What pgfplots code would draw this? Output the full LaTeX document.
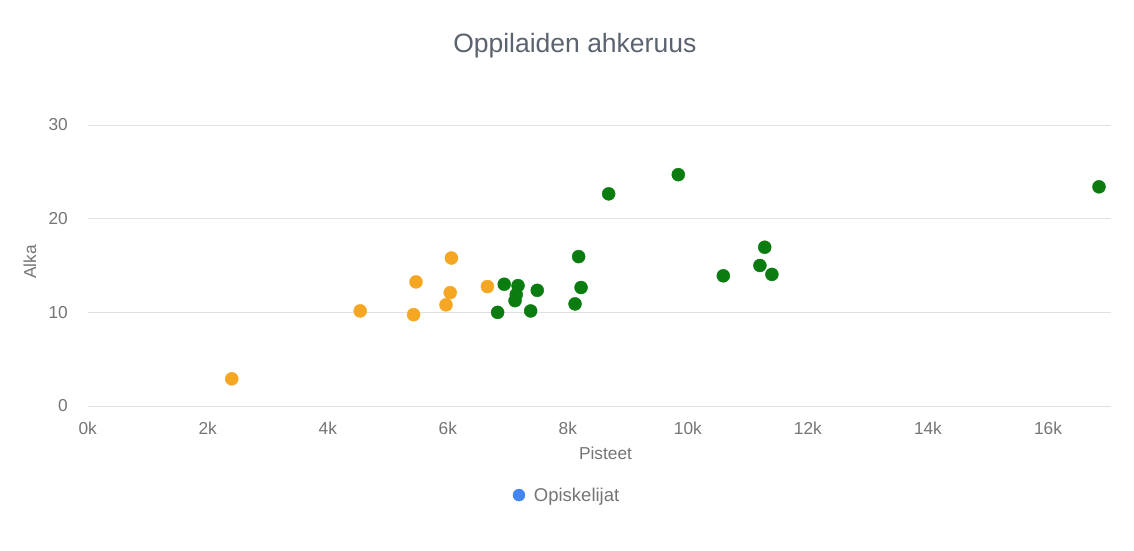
\documentclass[border=0pt]{standalone}
\usepackage{fontspec}
\setmainfont{Liberation Sans}
\usepackage{pgfplots}
\pgfplotsset{compat=1.18}
\definecolor{dotorange}{RGB}{245,166,35}
\definecolor{dotgreen}{RGB}{10,124,16}
\definecolor{legblue}{RGB}{66,133,244}
\definecolor{ticktxt}{RGB}{117,117,117}
\definecolor{titletxt}{RGB}{92,99,112}
\definecolor{gridc}{RGB}{224,224,224}
\begin{document}
\begin{tikzpicture}
\fill[white] (0,0) rectangle (1134pt,550pt);
\useasboundingbox (0,0) rectangle (1134pt,550pt);
\begin{axis}[
  at={(87.7pt,144pt)}, anchor=south west,
  scale only axis, width=1023.3pt, height=281pt,
  xmin=0, xmax=17050, ymin=0, ymax=30,
  scaled x ticks=false, scaled y ticks=false,
  xtick={0,2000,4000,6000,8000,10000,12000,14000,16000},
  xticklabels={0k,2k,4k,6k,8k,10k,12k,14k,16k},
  ytick={0,10,20,30},
  yticklabels={0,10,20,30},
  ymajorgrids, grid style={color=gridc, line width=1pt},
  axis line style={draw=none}, major tick length=0pt,
  tick label style={font=\fontsize{17.3}{20}\selectfont, text=ticktxt},
  xticklabel style={anchor=base, yshift=-28pt},
  yticklabel style={anchor=east, inner sep=0pt, xshift=-19.7pt},
  title={Oppilaiden ahkeruus},
  title style={at={(axis description cs:0.476,1.235)}, anchor=base, font=\fontsize{26.5}{30}\selectfont, text=titletxt},
  xlabel={Pisteet},
  xlabel style={at={(axis description cs:0.506,0)}, anchor=base, yshift=-53pt, font=\fontsize{17.3}{20}\selectfont, text=ticktxt},
  ylabel={Alka},
  ylabel style={at={(axis description cs:-0.0564,0.512)}, anchor=center, font=\fontsize{17.3}{20}\selectfont, text=ticktxt},
  legend style={at={(axis description cs:0.4685,-0.317)}, anchor=center, draw=none, fill=none, font=\fontsize{18.5}{21}\selectfont, text=ticktxt},
  legend cell align=left,
]
\addlegendimage{only marks, mark=*, mark size=6pt, mark options={fill=legblue, draw=legblue}}
\addlegendentry{\hspace{7pt}Opiskelijat}
\addplot[only marks, mark=*, mark size=6.5pt, mark options={fill=dotorange, draw=dotorange}, forget plot] table {
x y
2400 2.9
4540 10.15
5470 13.25
5430 9.75
6060 15.8
6040 12.1
5970 10.8
6660 12.75
};
\addplot[only marks, mark=*, mark size=6.5pt, mark options={fill=dotgreen, draw=dotgreen}, forget plot] table {
x y
6830 10.0
6940 13.0
7170 12.85
7140 11.9
7120 11.25
7380 10.15
7490 12.35
8120 10.9
8180 15.95
8220 12.65
8680 22.65
9840 24.7
10590 13.9
11200 15.0
11280 16.95
11400 14.05
16850 23.4
};
\end{axis}
\end{tikzpicture}
\end{document}
